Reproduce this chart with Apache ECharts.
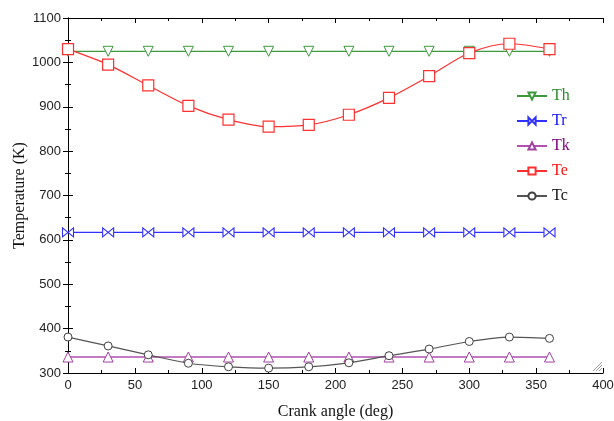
<!DOCTYPE html>
<html>
<head>
<meta charset="utf-8">
<script src="https://cdn.jsdelivr.net/npm/echarts@6/dist/echarts.min.js"></script>
<style>html,body{margin:0;padding:0;background:#fff}#c{width:614px;height:421px}</style>
</head>
<body>
<div id="c"></div>
<script>
var angles = [0, 30, 60, 90, 120, 150, 180, 210, 240, 270, 300, 330, 360];
var Th = [1025, 1025, 1025, 1025, 1025, 1025, 1025, 1025, 1025, 1025, 1025, 1025, 1025];
var Tr = [617, 617, 617, 617, 617, 617, 617, 617, 617, 617, 617, 617, 617];
var Tk = [336, 336, 336, 336, 336, 336, 336, 336, 336, 336, 336, 336, 336];
var Te = [1030, 995, 948, 902, 871, 855, 859, 882, 920, 969, 1021, 1042, 1030];
var Tc = [381, 361, 341, 322, 314, 311, 314, 323, 339, 354, 371, 381, 378];
var seriesNames = ['Th', 'Tr', 'Tk', 'Te', 'Tc'];

function pairs(v) { return angles.map(function (a, i) { return [a, v[i]]; }); }

var colors = {Th: '#3c9a3c', Tr: '#3030ff', Tk: '#a040a0', Te: '#ff3030', Tc: '#404040'};
var textColors = {Th: '#2e8b2e', Tr: '#1010ff', Tk: '#800080', Te: '#ff1010', Tc: '#111111'};
var bowtie = 'path://M0,0 L10,10 L10,0 L0,10 Z';

var chart = echarts.init(document.getElementById('c'));
var axisCommon = {
  axisLine: {show: true, lineStyle: {color: '#000', width: 1}},
  axisTick: {show: true, inside: true, length: 5, lineStyle: {color: '#000'}},
  minorTick: {show: true, splitNumber: 2, length: 3, lineStyle: {color: '#000'}},
  splitLine: {show: false}
};
function ax(extra) { return Object.assign({}, JSON.parse(JSON.stringify(axisCommon)), extra); }
function plain(v) { return String(v); }

var option = {
  animation: false,
  backgroundColor: '#fff',
  grid: {left: 68, right: 11, top: 18, bottom: 48, containLabel: false, outerBoundsMode: 'none'},
  xAxis: [
    ax({type: 'value', min: 0, max: 400, interval: 50, position: 'bottom',
      axisLabel: {fontFamily: 'Liberation Sans', fontSize: 13, color: '#222', margin: 6, formatter: plain},
      name: 'Crank angle (deg)', nameLocation: 'middle', nameGap: 31, nameMoveOverlap: false,
      nameTextStyle: {fontFamily: 'Liberation Serif', fontSize: 16, color: '#111'}}),
    ax({type: 'value', min: 0, max: 400, interval: 50, position: 'top', axisLabel: {show: false}})
  ],
  yAxis: [
    ax({type: 'value', min: 300, max: 1100, interval: 100, position: 'left',
      axisLabel: {fontFamily: 'Liberation Sans', fontSize: 13, color: '#222', margin: 7, formatter: plain},
      name: 'Temperature (K)', nameLocation: 'middle', nameGap: 40, nameMoveOverlap: false,
      nameTextStyle: {fontFamily: 'Liberation Serif', fontSize: 16, color: '#111'}}),
    ax({type: 'value', min: 300, max: 1100, interval: 100, position: 'right', axisLabel: {show: false}})
  ],
  legend: {
    orient: 'vertical', left: 511, top: 83, itemGap: 9, itemWidth: 30, itemHeight: 9,
    textStyle: {fontFamily: 'Liberation Serif', fontSize: 16},
    data: seriesNames.map(function (n) { return {name: n, textStyle: {color: textColors[n]}}; })
  },
  series: [
    {name: 'Th', type: 'line', data: pairs(Th), symbol: 'triangle', symbolRotate: 180, symbolSize: 10,
      itemStyle: {color: '#fff', borderColor: colors.Th, borderWidth: 1}, lineStyle: {color: colors.Th, width: 1.2}, z: 3},
    {name: 'Tr', type: 'line', data: pairs(Tr), symbol: bowtie, symbolSize: [11, 9],
      itemStyle: {color: '#fff', borderColor: colors.Tr, borderWidth: 1}, lineStyle: {color: colors.Tr, width: 1.2}},
    {name: 'Tk', type: 'line', data: pairs(Tk), symbol: 'triangle', symbolSize: 10,
      itemStyle: {color: '#fff', borderColor: colors.Tk, borderWidth: 1}, lineStyle: {color: '#b050b0', width: 1.4}},
    {name: 'Te', type: 'line', data: pairs(Te), symbol: 'rect', symbolSize: 11, smooth: 0.3,
      itemStyle: {color: '#fff', borderColor: colors.Te, borderWidth: 1.2}, lineStyle: {color: colors.Te, width: 1.2}, z: 4},
    {name: 'Tc', type: 'line', data: pairs(Tc), symbol: 'circle', symbolSize: 8, smooth: 0.3,
      itemStyle: {color: '#fff', borderColor: colors.Tc, borderWidth: 1}, lineStyle: {color: '#555', width: 1.2}, z: 4}
  ],
  graphic: [
    {type: 'line', shape: {x1: 593, y1: 371, x2: 602, y2: 362}, style: {stroke: '#999', lineWidth: 1}},
    {type: 'line', shape: {x1: 596, y1: 371, x2: 602, y2: 365}, style: {stroke: '#999', lineWidth: 1}},
    {type: 'line', shape: {x1: 599, y1: 371, x2: 602, y2: 368}, style: {stroke: '#999', lineWidth: 1}}
  ]
};
chart.setOption(option);
</script>
</body>
</html>
